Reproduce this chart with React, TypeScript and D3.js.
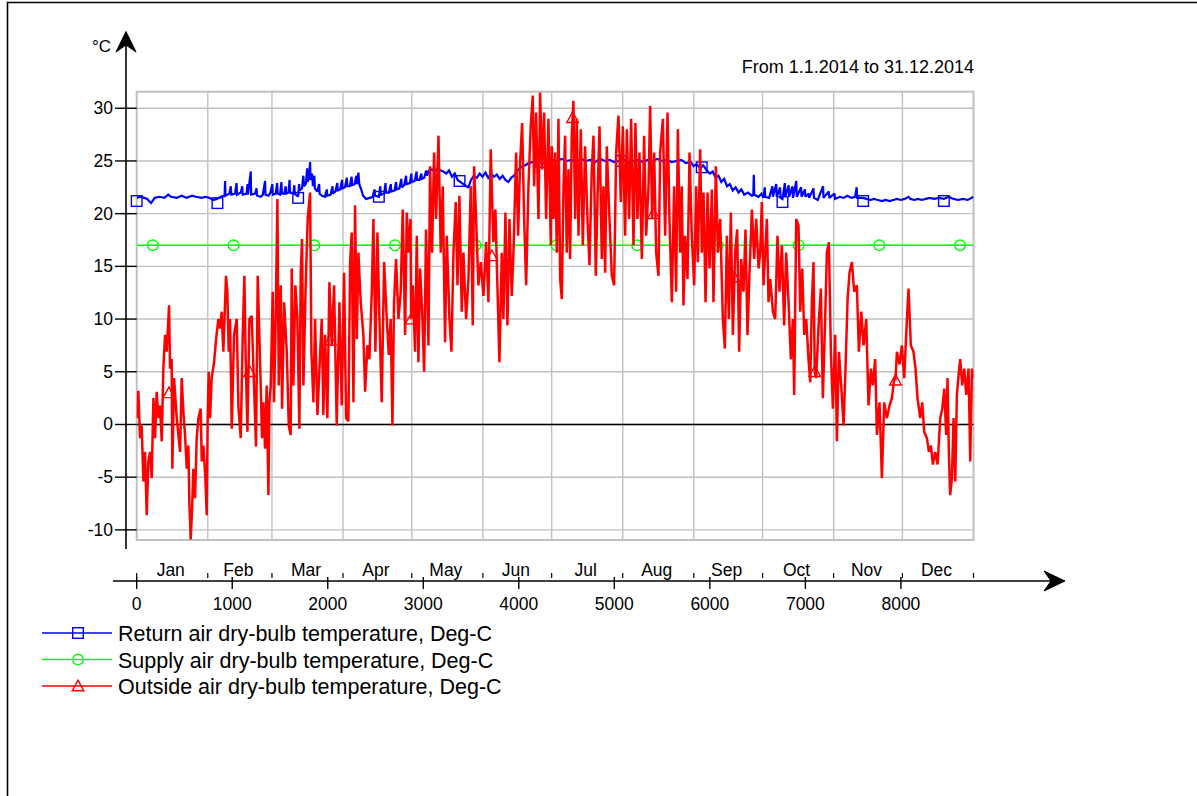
import React from "react";
import * as d3 from "d3";

// ---------- data ----------
const monthNames = ["Jan", "Feb", "Mar", "Apr", "May", "Jun", "Jul", "Aug", "Sep", "Oct", "Nov", "Dec"];
const monthStartHours = [0, 744, 1416, 2160, 2880, 3624, 4344, 5088, 5832, 6552, 7296, 8016, 8760];
const xTicks = [0, 1000, 2000, 3000, 4000, 5000, 6000, 7000, 8000];
const yTicks = [-10, -5, 0, 5, 10, 15, 20, 25, 30];
const titleText = "From 1.1.2014 to 31.12.2014";
const unitLabel = "°C";

const seriesNames = [
  "Return air dry-bulb temperature, Deg-C",
  "Supply air dry-bulb temperature, Deg-C",
  "Outside air dry-bulb temperature, Deg-C",
];

// [hour, °C]
const returnAir: [number, number][] = [
  [0,21.5],[40,21.6],[80,21.5],[110,21.4],[150,21.0],[190,21.5],[240,21.6],[290,21.5],[330,21.8],[360,21.6],
  [420,21.5],[470,21.7],[520,21.5],[580,21.7],[620,21.6],[680,21.5],[720,21.6],[760,21.5],[800,21.3],[840,21.4],
  [880,21.6],[910,21.7],[920,21.6],[925,23.1],[930,21.7],[970,21.9],[985,22.6],[990,21.8],[1030,21.9],[1045,22.9],
  [1050,21.8],[1090,22.0],[1105,22.6],[1110,21.8],[1150,21.9],[1160,22.8],[1165,21.8],[1194,24.0],[1198,21.8],[1240,21.9],
  [1255,22.4],[1260,21.7],[1300,21.6],[1320,21.8],[1344,23.1],[1348,21.8],[1380,21.7],[1400,22.0],[1420,22.8],[1425,21.8],
  [1455,21.9],[1470,22.9],[1475,21.9],[1500,21.8],[1515,23.0],[1520,21.9],[1545,21.9],[1560,22.6],[1565,21.9],[1590,22.0],
  [1600,23.2],[1605,22.0],[1640,21.9],[1650,22.7],[1655,21.9],[1690,21.6],[1700,22.8],[1705,22.2],[1730,22.4],[1745,23.6],
  [1750,22.6],[1770,22.8],[1785,24.3],[1790,23.0],[1805,23.5],[1815,24.9],[1820,23.2],[1835,23.8],[1845,22.6],[1860,23.6],
  [1865,22.4],[1890,22.1],[1910,22.8],[1915,21.9],[1940,21.7],[1970,21.6],[1990,22.3],[1995,21.7],[2030,21.8],[2050,22.6],
  [2055,21.9],[2080,22.1],[2100,22.9],[2105,22.2],[2130,22.3],[2150,23.2],[2155,22.4],[2180,22.5],[2200,23.4],[2205,22.6],
  [2230,22.6],[2250,23.5],[2255,22.7],[2280,22.8],[2300,23.6],[2305,22.8],[2321,23.9],[2330,22.8],[2350,22.3],[2370,21.7],
  [2400,21.4],[2440,21.5],[2470,21.6],[2490,22.3],[2495,21.7],[2535,21.6],[2550,22.6],[2555,21.8],[2590,21.9],[2605,22.9],
  [2610,22.0],[2640,22.0],[2660,22.8],[2665,22.1],[2700,22.2],[2715,23.0],[2720,22.3],[2750,22.4],[2770,23.3],[2775,22.5],
  [2800,22.7],[2820,23.6],[2825,22.8],[2860,22.9],[2875,23.8],[2880,23.0],[2910,23.1],[2930,24.0],[2935,23.2],[2960,23.2],
  [2980,23.8],[2985,23.3],[3010,23.4],[3030,24.1],[3040,23.6],[3060,24.1],[3090,24.2],[3120,24.0],[3150,24.3],[3180,24.1],
  [3210,24.0],[3240,23.8],[3270,24.1],[3300,23.5],[3330,23.8],[3360,23.2],[3390,23.0],[3420,22.8],[3450,22.6],[3473,22.5],
  [3500,23.2],[3530,23.6],[3560,23.4],[3590,23.8],[3620,23.5],[3650,23.9],[3680,23.4],[3710,23.8],[3740,23.5],[3770,23.7],
  [3800,23.3],[3830,23.6],[3860,23.2],[3890,23.0],[3920,23.4],[3950,23.6],[3980,24.0],[4010,24.3],[4040,24.5],[4070,24.6],
  [4100,24.8],[4150,24.9],[4200,25.0],[4250,24.8],[4300,24.9],[4350,25.1],[4400,25.0],[4450,25.2],[4500,25.0],[4550,25.1],
  [4600,24.9],[4650,25.2],[4700,25.0],[4750,25.1],[4800,24.9],[4850,25.2],[4900,25.0],[4950,25.1],[5000,24.9],[5050,25.0],
  [5100,25.1],[5150,24.8],[5200,25.0],[5250,25.1],[5300,24.9],[5350,25.1],[5400,25.0],[5450,25.2],[5500,25.0],[5550,25.1],
  [5600,24.9],[5650,25.0],[5700,25.1],[5750,24.8],[5800,24.9],[5830,24.5],[5860,24.7],[5900,24.3],[5930,24.6],[5968,24.1],
  [6000,23.8],[6030,24.0],[6060,23.4],[6090,23.6],[6120,23.0],[6150,23.3],[6180,22.6],[6210,22.8],[6240,22.2],[6270,22.5],
  [6300,22.0],[6330,22.3],[6360,21.8],[6400,22.0],[6440,21.7],[6455,21.8],[6460,23.7],[6465,21.8],[6510,21.6],[6540,21.9],
  [6560,21.5],[6575,22.5],[6580,21.6],[6620,21.5],[6655,22.6],[6660,21.6],[6695,22.8],[6700,21.6],[6735,22.5],[6740,21.5],
  [6760,21.4],[6785,22.9],[6790,21.6],[6825,22.7],[6830,21.6],[6865,22.6],[6870,21.5],[6905,23.1],[6910,21.6],[6955,22.5],
  [6960,21.6],[6995,22.3],[7000,21.6],[7035,21.9],[7040,21.5],[7085,22.4],[7090,21.5],[7130,21.3],[7185,22.6],[7190,21.5],
  [7245,22.1],[7250,21.5],[7305,21.9],[7310,21.4],[7360,21.6],[7400,21.5],[7440,21.7],[7480,21.5],[7520,21.6],[7537,22.5],
  [7542,21.5],[7600,21.5],[7640,21.4],[7680,21.3],[7720,21.4],[7760,21.3],[7800,21.2],[7840,21.3],[7880,21.2],[7920,21.3],
  [7960,21.4],[8000,21.3],[8040,21.4],[8080,21.6],[8100,21.4],[8140,21.3],[8180,21.4],[8220,21.3],[8260,21.4],[8300,21.5],
  [8350,21.4],[8400,21.5],[8450,21.4],[8500,21.6],[8550,21.4],[8600,21.3],[8650,21.4],[8700,21.3],[8740,21.5],[8760,21.6],
];

const supplyAir: [number, number][] = [
  [0,17],[8760,17],
];

const outsideAir: [number, number][] = [
  [0,0.6],[17,3.2],[35,-1.3],[52,-0.1],[70,-5.4],[87,-2.6],[105,-8.6],[122,-3.5],[140,-2.6],[157,-5.1],
  [175,2.5],[192,-1.3],[209,3.1],[227,0.6],[244,1.8],[262,-1.6],[279,5.3],[297,8.5],[314,6.9],[339,11.3],
  [349,5.3],[366,6.2],[373,-4.2],[391,4.4],[419,0.6],[454,-2.6],[471,4.4],[489,1.2],[506,-1.0],[524,-4.2],
  [541,-2.0],[551,-7.3],[565,-10.9],[579,-8.3],[593,-4.2],[611,-7.0],[628,-1.3],[646,0.6],[670,1.5],[681,-3.5],
  [698,-2.0],[719,-5.1],[733,-8.6],[743,0.6],[754,5.0],[768,0.6],[785,4.4],[810,5.9],[831,8.1],[855,10.0],
  [873,9.1],[890,10.7],[907,6.9],[935,14.1],[949,12.6],[963,6.9],[977,10.0],[995,-0.4],[1019,8.5],[1047,10.0],
  [1064,1.8],[1089,-1.3],[1110,8.5],[1127,14.1],[1141,6.2],[1159,-0.7],[1180,10.0],[1204,10.3],[1228,3.7],[1249,-2.1],
  [1267,14.1],[1284,8.5],[1298,3.7],[1312,-1.3],[1326,2.1],[1344,-2.3],[1361,3.7],[1379,-6.7],[1389,2.1],[1403,3.7],
  [1424,12.6],[1438,2.1],[1455,10.0],[1473,21.4],[1487,3.7],[1508,13.2],[1522,1.5],[1543,11.6],[1571,6.9],[1592,-0.1],
  [1612,-1.0],[1623,14.8],[1640,3.7],[1661,13.2],[1682,10.0],[1703,-0.4],[1717,14.4],[1731,17.6],[1745,3.7],[1769,13.2],
  [1790,19.5],[1815,22.0],[1829,6.9],[1850,2.1],[1867,10.0],[1892,0.9],[1913,5.3],[1937,10.0],[1954,0.9],[1972,8.5],
  [1996,0.6],[2017,13.5],[2042,7.5],[2066,13.2],[2094,-0.1],[2122,11.6],[2146,1.8],[2171,14.4],[2192,0.6],[2216,0.3],
  [2234,15.4],[2251,18.2],[2269,2.1],[2286,20.8],[2304,8.1],[2321,16.3],[2345,11.6],[2373,8.5],[2391,3.1],[2415,7.5],
  [2436,6.2],[2461,12.6],[2478,19.5],[2499,6.9],[2520,18.2],[2541,10.0],[2565,2.1],[2590,15.4],[2618,10.0],[2639,6.6],
  [2659,10.0],[2677,-0.1],[2694,11.6],[2715,15.7],[2740,10.0],[2764,12.6],[2785,20.4],[2810,8.5],[2827,20.1],[2848,16.3],
  [2866,19.5],[2873,10.0],[2890,13.2],[2914,6.9],[2932,17.9],[2949,5.9],[2967,14.8],[2991,10.0],[3009,5.0],[3029,18.5],
  [3054,7.5],[3071,24.5],[3092,16.3],[3113,25.8],[3134,19.5],[3159,27.4],[3183,16.3],[3204,22.6],[3228,7.8],[3246,17.9],
  [3274,10.0],[3295,6.9],[3316,16.3],[3340,21.1],[3358,13.2],[3378,21.7],[3403,10.7],[3420,16.3],[3448,10.0],[3473,13.8],
  [3497,22.6],[3518,9.4],[3532,24.5],[3553,19.5],[3577,13.2],[3602,15.4],[3630,12.2],[3658,17.3],[3682,11.6],[3706,26.1],
  [3734,17.3],[3755,20.4],[3776,13.2],[3797,5.9],[3822,16.3],[3839,10.0],[3860,20.1],[3881,9.4],[3902,19.5],[3926,12.2],
  [3944,16.3],[3972,25.8],[3993,17.9],[4014,24.9],[4035,28.6],[4056,19.5],[4077,13.2],[4101,22.6],[4125,28.3],[4146,31.2],
  [4160,22.6],[4181,29.6],[4206,19.5],[4223,31.5],[4244,24.2],[4265,29.6],[4286,19.5],[4310,29.0],[4335,17.0],[4345,26.4],
  [4363,19.5],[4380,25.8],[4398,16.3],[4415,29.0],[4433,13.8],[4450,11.9],[4468,22.6],[4485,27.4],[4502,16.3],[4520,24.2],
  [4537,15.7],[4555,27.7],[4563,29.1],[4572,30.7],[4590,19.5],[4607,29.0],[4625,17.9],[4649,28.0],[4670,17.0],[4694,26.4],
  [4719,19.5],[4740,15.1],[4764,24.2],[4782,27.4],[4806,14.1],[4827,22.6],[4845,28.3],[4869,15.7],[4886,22.6],[4904,14.4],
  [4921,26.4],[4949,19.5],[4974,14.1],[4998,13.2],[5019,25.8],[5043,29.3],[5068,21.1],[5089,28.3],[5113,17.9],[5131,28.0],
  [5155,19.5],[5176,29.0],[5201,17.0],[5221,28.6],[5242,19.5],[5263,25.8],[5288,15.7],[5312,27.4],[5333,17.9],[5358,22.6],
  [5375,30.2],[5396,19.5],[5417,25.8],[5438,16.3],[5462,14.1],[5480,25.8],[5508,29.0],[5532,17.9],[5557,29.6],[5577,19.5],
  [5602,11.6],[5626,22.6],[5647,12.6],[5665,28.0],[5689,16.3],[5706,22.6],[5724,11.3],[5741,17.9],[5766,13.8],[5787,25.8],
  [5811,17.9],[5836,13.2],[5857,22.6],[5874,15.4],[5899,26.1],[5916,16.3],[5934,22.0],[5955,11.6],[5976,22.0],[5997,14.8],
  [6021,22.3],[6038,11.6],[6063,24.5],[6084,16.3],[6108,19.5],[6136,10.0],[6157,7.2],[6178,17.9],[6199,10.0],[6220,20.1],
  [6241,8.5],[6265,16.3],[6286,18.5],[6307,6.9],[6328,15.7],[6352,12.6],[6373,18.5],[6394,8.5],[6415,14.4],[6440,20.4],
  [6464,15.7],[6485,19.5],[6510,14.8],[6527,16.3],[6544,21.1],[6562,13.2],[6579,16.3],[6597,19.5],[6614,11.6],[6632,13.8],
  [6660,10.7],[6684,10.0],[6708,17.9],[6729,12.6],[6754,17.0],[6778,9.4],[6799,16.3],[6824,11.6],[6848,6.2],[6869,10.0],
  [6883,2.8],[6904,19.5],[6928,18.9],[6946,10.7],[6967,14.8],[6988,8.5],[7009,10.0],[7033,6.2],[7051,4.0],[7068,11.6],
  [7085,15.4],[7098,5.0],[7113,4.4],[7138,9.4],[7162,12.9],[7183,2.5],[7207,10.0],[7225,16.3],[7246,17.3],[7267,6.9],
  [7288,1.5],[7312,8.5],[7330,-1.6],[7351,6.9],[7375,3.7],[7400,-0.1],[7420,5.3],[7442,11.9],[7462,14.4],[7487,15.4],
  [7511,12.6],[7539,13.2],[7560,6.9],[7585,10.7],[7609,7.5],[7637,10.0],[7661,1.8],[7686,5.3],[7706,3.7],[7731,6.2],
  [7749,-1.0],[7776,2.1],[7801,-5.1],[7825,2.1],[7853,0.6],[7881,1.8],[7906,2.5],[7930,4.4],[7943,4.2],[7958,6.9],
  [7986,5.7],[8010,7.5],[8035,4.4],[8063,10.0],[8080,12.9],[8104,7.5],[8132,6.9],[8153,5.3],[8174,2.5],[8202,0.6],
  [8223,2.1],[8244,-0.7],[8272,-1.3],[8293,-2.6],[8314,-2.0],[8335,-3.8],[8359,-2.6],[8384,-3.8],[8412,0.6],[8433,1.5],
  [8454,3.4],[8474,-1.0],[8488,4.4],[8502,-2.6],[8516,-6.7],[8534,-5.1],[8551,0.6],[8569,-5.4],[8586,2.8],[8604,4.7],
  [8621,6.2],[8642,3.7],[8663,5.3],[8684,2.8],[8708,5.3],[8726,-3.5],[8744,5.3],[8760,4.4],
];

// series markers: [hour, °C]
const returnMarkers: [number, number][] = [
  [0,21.2],[845,21.0],[1690,21.5],[2535,21.6],[3380,23.1],[4225,24.9],[5070,25.0],[5915,24.4],[6760,21.1],[7605,21.2],[8450,21.2],
];
const supplyMarkers: [number, number][] = [
  [169,17],[1014,17],[1859,17],[2704,17],[3549,17],[4394,17],[5239,17],[6084,17],[6929,17],[7774,17],[8619,17],
];
const outsideMarkers: [number, number][] = [
  [338,3.0],[1183,5.0],[2028,8.0],[2873,10.0],[3718,16.0],[4563,29.1],[5408,20.0],[6253,14.0],[7098,5.0],[7943,4.2],
];

// ---------- drawing ----------
const W = 1197;
const H = 796;
const PL = 136.7, PR = 973.5, PT = 91.7, PB = 540;
const FONT = "'Liberation Sans', Arial, Helvetica, sans-serif";
const GRID = "#c0c0c0";

const x = d3.scaleLinear().domain([0, 8760]).range([PL, PR]);
const y = d3.scaleLinear().domain([-10.96, 31.57]).range([PB, PT]);

const lineGen = d3
  .line<[number, number]>()
  .x((d) => x(d[0]))
  .y((d) => y(d[1]));

function Marker({ kind, cx, cy, color }: { kind: string; cx: number; cy: number; color: string }) {
  const s = 5.3;
  if (kind === "square")
    return <rect x={cx - s} y={cy - s} width={2 * s} height={2 * s} fill="none" stroke={color} strokeWidth={1.4} />;
  if (kind === "circle") return <circle cx={cx} cy={cy} r={s} fill="none" stroke={color} strokeWidth={1.4} />;
  return (
    <path
      d={`M${cx},${cy - s - 0.5} L${cx + s + 0.5},${cy + s - 0.5} L${cx - s - 0.5},${cy + s - 0.5} Z`}
      fill="none"
      stroke={color}
      strokeWidth={1.4}
    />
  );
}

const series = [
  { name: seriesNames[0], data: returnAir, color: "#0000ff", width: 2.2, marker: "square", marks: returnMarkers },
  { name: seriesNames[1], data: supplyAir, color: "#00ff00", width: 1.5, marker: "circle", marks: supplyMarkers },
  { name: seriesNames[2], data: outsideAir, color: "#ff0000", width: 2.5, marker: "triangle", marks: outsideMarkers },
];

export default function App() {
  const axY = 581;
  const yAxX = 126;
  return (
    <svg
      width={W}
      height={H}
      style={{ position: "absolute", left: 0, top: 0, background: "#fff" }}
      fontFamily={FONT}
    >
      <rect x={0} y={0} width={W} height={H} fill="#fff" />
      {/* outer frame */}
      <path d={`M7.5,${H + 5} L7.5,2.5 L${W + 5},2.5`} fill="none" stroke="#000" strokeWidth={1.6} />

      <defs>
        <clipPath id="plotclip">
          <rect x={PL} y={PT} width={PR - PL} height={PB - PT} />
        </clipPath>
      </defs>

      {/* grid */}
      {yTicks.map((t) => (
        <line key={"gy" + t} x1={PL} x2={PR} y1={y(t)} y2={y(t)} stroke={GRID} strokeWidth={1.4} />
      ))}
      {monthStartHours.slice(1, -1).map((h) => (
        <line key={"gx" + h} x1={x(h)} x2={x(h)} y1={PT} y2={PB} stroke={GRID} strokeWidth={1.4} />
      ))}
      <rect x={PL} y={PT} width={PR - PL} height={PB - PT} fill="none" stroke={GRID} strokeWidth={2} />
      <line x1={PL} x2={PR} y1={y(0)} y2={y(0)} stroke="#000" strokeWidth={1.4} />

      {/* series: markers beneath, lines on top */}
      {series.map((s) => (
        <g key={s.name}>
          {s.marks.map((m) => (
            <Marker key={m[0]} kind={s.marker} cx={x(m[0])} cy={y(m[1])} color={s.color} />
          ))}
          <path
            d={lineGen(s.data) || ""}
            clipPath="url(#plotclip)"
            fill="none"
            stroke={s.color}
            strokeWidth={s.width}
            strokeLinejoin="miter"
            strokeMiterlimit={2}
          />
        </g>
      ))}

      {/* y axis */}
      <line x1={yAxX} x2={yAxX} y1={40} y2={549} stroke="#000" strokeWidth={1.6} />
      <path d={`M${yAxX},31.5 L${yAxX + 10},52 L${yAxX},45 L${yAxX - 10},52 Z`} fill="#000" stroke="#000" strokeWidth={1} strokeLinejoin="miter" />
      {yTicks.map((t) => (
        <g key={"yt" + t}>
          <line x1={115} x2={PL} y1={y(t)} y2={y(t)} stroke="#000" strokeWidth={1.4} />
          <text x={113} y={y(t) + 6} textAnchor="end" fontSize={17.5} fill="#000">
            {t}
          </text>
        </g>
      ))}
      <text x={111} y={51.5} textAnchor="end" fontSize={17} fill="#000">
        {unitLabel}
      </text>

      {/* x axis */}
      <line x1={113} x2={1058} y1={axY} y2={axY} stroke="#000" strokeWidth={1.6} />
      <path d={`M1065,${axY} L1044,${axY - 10} L1051,${axY} L1044,${axY + 10} Z`} fill="#000" stroke="#000" strokeWidth={1} />
      {xTicks.map((t) => (
        <g key={"xt" + t}>
          <line x1={x(t)} x2={x(t)} y1={axY - 4} y2={axY + 8} stroke="#000" strokeWidth={1.4} />
          <text x={x(t)} y={609.5} textAnchor="middle" fontSize={17.5} fill="#000">
            {t}
          </text>
        </g>
      ))}
      {monthStartHours.map((h) => (
        <line key={"mt" + h} x1={x(h)} x2={x(h)} y1={axY - 8} y2={axY - 3} stroke="#000" strokeWidth={1.2} />
      ))}
      {monthNames.map((m, i) => (
        <text
          key={m}
          x={(x(monthStartHours[i]) + x(monthStartHours[i + 1])) / 2 - 1.5}
          y={576}
          textAnchor="middle"
          fontSize={17.5}
          fill="#000"
        >
          {m}
        </text>
      ))}

      {/* title */}
      <text x={974} y={73} textAnchor="end" fontSize={18} fill="#000">
        {titleText}
      </text>

      {/* legend */}
      {series.map((s, i) => {
        const ly = 633 + i * 26.5;
        return (
          <g key={"lg" + i}>
            <line x1={42} x2={112} y1={ly} y2={ly} stroke={s.color} strokeWidth={1.6} />
            <Marker kind={s.marker} cx={78} cy={ly} color={s.color} />
            <text x={118} y={ly + 8} fontSize={21.5} fill="#000">
              {s.name}
            </text>
          </g>
        );
      })}
    </svg>
  );
}
